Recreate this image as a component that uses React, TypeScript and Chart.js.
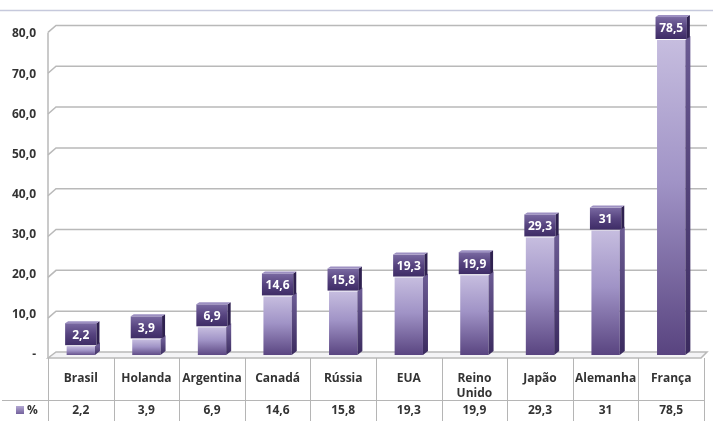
import { useEffect, useRef } from 'react';
import { Chart, registerables } from 'chart.js';

Chart.register(...registerables);

const categories = ['Brasil', 'Holanda', 'Argentina', 'Canadá', 'Rússia', 'EUA', 'Reino Unido', 'Japão', 'Alemanha', 'França'];
const values = [2.2, 3.9, 6.9, 14.6, 15.8, 19.3, 19.9, 29.3, 31, 78.5];
const valueLabels = ['2,2', '3,9', '6,9', '14,6', '15,8', '19,3', '19,9', '29,3', '31', '78,5'];
const seriesName = '%';
const yMin = 0;
const yMax = 80;
const yStep = 10;

const FONT = '"Open Sans", Lato, sans-serif';
const FS = 12;

export default function App() {
  const ref = useRef<HTMLCanvasElement>(null);

  useEffect(() => {
    const canvas = ref.current!;
    const tableTop = 358;
    const rowSplit = 400;
    const ok = (...n: number[]) => n.every((v) => Number.isFinite(v));

    const scene = {
      id: 'scene',
      beforeDraw(chart: any) {
        const { ctx, width, height } = chart;
        ctx.save();
        ctx.fillStyle = '#ffffff';
        ctx.fillRect(0, 0, width, height);
        ctx.strokeStyle = '#c6c9dc';
        ctx.lineWidth = 1.5;
        ctx.beginPath();
        ctx.moveTo(0, 10.5);
        ctx.lineTo(width, 10.5);
        ctx.stroke();
        ctx.restore();
      },
      beforeDatasetsDraw(chart: any) {
        const { ctx, scales, chartArea } = chart;
        const y = scales.y;
        const back = (v: number) => y.getPixelForValue(v) - 3 - v * 0.07;
        const L = chartArea.left;
        const LB = L + 8;
        const R = chartArea.right + 3;
        ctx.save();
        ctx.strokeStyle = '#b9b9b9';
        ctx.lineWidth = 1.5;
        for (let v = yMin + yStep; v <= yMax; v += yStep) {
          const yb = back(v);
          ctx.beginPath();
          ctx.moveTo(L, yb + 7);
          ctx.lineTo(LB, yb);
          ctx.lineTo(R, yb);
          ctx.stroke();
        }
        ctx.beginPath();
        ctx.moveTo(L, back(yMax) + 7);
        ctx.lineTo(L, tableTop);
        ctx.stroke();
        const yb0 = back(0);
        ctx.fillStyle = '#f4f4f6';
        ctx.beginPath();
        ctx.moveTo(L, tableTop);
        ctx.lineTo(LB, yb0);
        ctx.lineTo(R, yb0);
        ctx.lineTo(R - 6, tableTop);
        ctx.closePath();
        ctx.fill();
        ctx.stroke();
        ctx.restore();
      },
      afterDatasetsDraw(chart: any) {
        const { ctx } = chart;
        const meta = chart.getDatasetMeta(0);
        ctx.save();
        meta.data.forEach((el: any, i: number) => {
          const { x: cx, y: top, base, width } = el.getProps(['x', 'y', 'base', 'width'], true);
          if (!ok(cx, top, base, width)) return;
          const right = cx + width / 2;
          const d = 5;
          const sg = ctx.createLinearGradient(0, top, 0, base + 1);
          sg.addColorStop(0, '#6a5a92');
          sg.addColorStop(1, '#3a2a5e');
          ctx.fillStyle = sg;
          ctx.beginPath();
          ctx.moveTo(right, top);
          ctx.lineTo(right + d, top - 4);
          ctx.lineTo(right + d, base - 4);
          ctx.lineTo(right, base);
          ctx.closePath();
          ctx.fill();
          const w = width + 3;
          const h = 22;
          const bx = cx - w / 2;
          const by = top - 1 - h;
          const bg = ctx.createLinearGradient(0, by, 0, by + h);
          bg.addColorStop(0, '#7a6aa2');
          bg.addColorStop(0.5, '#56437f');
          bg.addColorStop(1, '#3e2c66');
          ctx.fillStyle = bg;
          ctx.fillRect(bx, by, w, h);
          ctx.fillStyle = '#2f2150';
          ctx.beginPath();
          ctx.moveTo(bx + w, by);
          ctx.lineTo(bx + w + 3, by - 2);
          ctx.lineTo(bx + w + 3, by + h - 2);
          ctx.lineTo(bx + w, by + h);
          ctx.closePath();
          ctx.fill();
          ctx.fillStyle = '#9d90c2';
          ctx.beginPath();
          ctx.moveTo(bx, by);
          ctx.lineTo(bx + 3, by - 2);
          ctx.lineTo(bx + w + 3, by - 2);
          ctx.lineTo(bx + w, by);
          ctx.closePath();
          ctx.fill();
          ctx.fillStyle = '#ffffff';
          ctx.font = `bold ${FS}px ${FONT}`;
          ctx.textAlign = 'center';
          ctx.textBaseline = 'middle';
          ctx.fillText(valueLabels[i], cx, by + h / 2 + 1);
        });
        ctx.restore();
      },
      afterDraw(chart: any) {
        const { ctx, scales, chartArea, height } = chart;
        const x = scales.x;
        const half = (x.getPixelForValue(1) - x.getPixelForValue(0)) / 2;
        ctx.save();
        ctx.strokeStyle = '#b5b5b5';
        ctx.lineWidth = 1;
        for (let i = 0; i <= categories.length; i++) {
          const xb = Math.round(x.getPixelForValue(0) - half + i * half * 2) + 0.5;
          ctx.beginPath();
          ctx.moveTo(xb, tableTop);
          ctx.lineTo(xb, height);
          ctx.stroke();
        }
        ctx.beginPath();
        ctx.moveTo(2, rowSplit + 0.5);
        ctx.lineTo(chartArea.right, rowSplit + 0.5);
        ctx.stroke();
        const kg = ctx.createLinearGradient(0, 406, 0, 415);
        kg.addColorStop(0, '#b3a8d3');
        kg.addColorStop(1, '#6b5895');
        ctx.fillStyle = kg;
        ctx.fillRect(16, 406, 8, 8);
        ctx.font = `bold ${FS}px ${FONT}`;
        ctx.fillStyle = '#333333';
        ctx.textAlign = 'left';
        ctx.textBaseline = 'middle';
        ctx.fillText(seriesName, 27, 411);
        ctx.textAlign = 'center';
        valueLabels.forEach((t, i) => {
          ctx.fillText(t, x.getPixelForValue(i), 411);
        });
        ctx.restore();
      },
    };

    const chart = new Chart(canvas, {
      type: 'bar',
      data: {
        labels: categories.map((c) => (c.includes(' ') ? c.split(' ') : c)),
        datasets: [
          {
            label: seriesName,
            data: values,
            barPercentage: 0.9,
            categoryPercentage: 0.48,
            backgroundColor: (c: any) => {
              const ch = c.chart;
              const y = ch.scales && ch.scales.y;
              if (!y || c.type !== 'data') return '#8a7cb3';
              const top = y.getPixelForValue(c.raw);
              const bot = y.getPixelForValue(0);
              if (!ok(top, bot) || bot - top < 0.5) return '#8a7cb3';
              const g = ch.ctx.createLinearGradient(0, top, 0, bot + 1);
              g.addColorStop(0, '#c6bddf');
              g.addColorStop(0.45, '#a093c6');
              g.addColorStop(1, '#58437f');
              return g;
            },
            borderWidth: 0,
          },
        ],
      },
      options: {
        responsive: false,
        animation: false,
        devicePixelRatio: 1,
        layout: { padding: { top: 34, right: 9, left: 0, bottom: 0 } },
        plugins: {
          legend: { display: false },
          title: { display: false },
          tooltip: { enabled: false },
        },
        scales: {
          x: {
            grid: { display: false, drawTicks: false },
            border: { display: false },
            ticks: {
              padding: 16,
              color: '#333333',
              font: { family: FONT, size: FS, weight: 'bold', lineHeight: 1.25 },
              maxRotation: 0,
              autoSkip: false,
            },
            afterFit: (s: any) => {
              s.height = 66;
            },
          },
          y: {
            min: yMin,
            max: yMax,
            grid: { display: false, drawTicks: false },
            border: { display: false },
            ticks: {
              stepSize: yStep,
              padding: 12,
              color: '#333333',
              font: { family: FONT, size: FS, weight: 'bold' },
              callback: (v: any) => (Number(v) === 0 ? '-' : Number(v).toFixed(1).replace('.', ',')),
            },
            afterFit: (s: any) => {
              s.width = 48;
            },
          },
        },
      },
      plugins: [scene],
    } as any);

    return () => chart.destroy();
  }, []);

  return (
    <div style={{ position: 'fixed', left: 0, top: 0, width: 713, height: 421, background: '#fff' }}>
      <canvas ref={ref} width={713} height={421} style={{ width: 713, height: 421, display: 'block' }} />
    </div>
  );
}
